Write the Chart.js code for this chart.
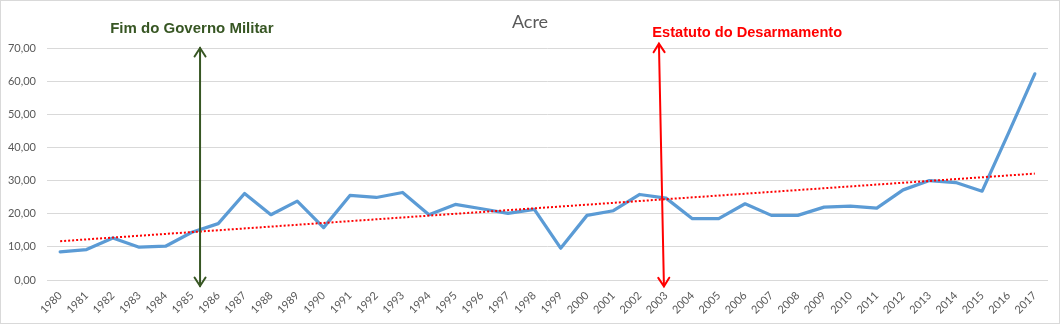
<!DOCTYPE html>
<html>
<head>
<meta charset="utf-8">
<script src="https://cdn.jsdelivr.net/npm/chart.js@4.4.0/dist/chart.umd.min.js"></script>
<style>
  html, body { margin: 0; padding: 0; background: #fff; }
  #wrap { width: 1062px; height: 325px; }
</style>
</head>
<body>
<div id="wrap"><canvas id="myChart" width="1062" height="325"></canvas></div>
<script>
// anos e taxa
const anos = ['1980', '1981', '1982', '1983', '1984', '1985', '1986', '1987', '1988', '1989',
  '1990', '1991', '1992', '1993', '1994', '1995', '1996', '1997', '1998', '1999',
  '2000', '2001', '2002', '2003', '2004', '2005', '2006', '2007', '2008', '2009',
  '2010', '2011', '2012', '2013', '2014', '2015', '2016', '2017'];
const taxaAcre = [8.5, 9.2, 12.7, 9.9, 10.2, 14.4, 17.0, 26.1, 19.7, 23.8,
  15.8, 25.5, 24.9, 26.4, 19.7, 22.8, 21.5, 20.1, 21.3, 9.6,
  19.5, 20.9, 25.8, 24.7, 18.5, 18.5, 23.0, 19.5, 19.5, 22.0,
  22.3, 21.7, 27.2, 30.0, 29.4, 26.8, 44.3, 62.2];
// linha de tendencia (pontas)
const tendenciaAnos = ['1980', '2017'];
const tendenciaValores = [11.7, 32.1];
const tituloGrafico = 'Acre';

// setas e textos (x = indice do ano, y = valor)
const marcos = [
  { texto: 'Fim do Governo Militar', cor: '#375623', x1: 5.31, y1: 70, x2: 5.31, y2: -1.8, tx: 5.0, ty: 75.8, align: 'center', size: 15 },
  { texto: 'Estatuto do Desarmamento', cor: '#ff0000', x1: 22.73, y1: 71.3, x2: 22.92, y2: -1.9, tx: 22.48, ty: 74.6, align: 'left', size: 14.6 }
];

function seta(ctx, ax, ay, bx, by) {
  // ponta aberta em b
  const ang = Math.atan2(by - ay, bx - ax);
  const len = 8.5, half = 5.5;
  const cx = bx - Math.cos(ang) * len, cy = by - Math.sin(ang) * len;
  const px = -Math.sin(ang) * half, py = Math.cos(ang) * half;
  ctx.beginPath();
  ctx.moveTo(cx + px, cy + py);
  ctx.lineTo(bx, by);
  ctx.lineTo(cx - px, cy - py);
  ctx.stroke();
}

const extras = {
  id: 'extras',
  beforeDraw(chart) {
    const ctx = chart.ctx;
    ctx.save();
    ctx.fillStyle = '#fff';
    ctx.fillRect(0, 0, chart.width, chart.height);
    ctx.strokeStyle = '#d9d9d9';
    ctx.lineWidth = 1;
    ctx.strokeRect(0.5, 0.5, 1059, 323);
    ctx.restore();
  },
  afterDatasetsDraw(chart) {
    const ctx = chart.ctx;
    const xs = chart.scales.x, ys = chart.scales.y;
    ctx.save();
    marcos.forEach(m => {
      const ax = xs.getPixelForValue(m.x1), ay = ys.getPixelForValue(m.y1);
      const bx = xs.getPixelForValue(m.x2), by = ys.getPixelForValue(m.y2);
      ctx.strokeStyle = m.cor;
      ctx.lineWidth = 2;
      ctx.lineCap = 'round';
      ctx.beginPath();
      ctx.moveTo(ax, ay);
      ctx.lineTo(bx, by);
      ctx.stroke();
      seta(ctx, bx, by, ax, ay);
      seta(ctx, ax, ay, bx, by);
    });
    ctx.restore();
  },
  afterDraw(chart) {
    const ctx = chart.ctx;
    const xs = chart.scales.x, ys = chart.scales.y;
    ctx.save();
    ctx.textBaseline = 'middle';
    ctx.fillStyle = '#595959';
    ctx.font = '18px Lato';
    ctx.textAlign = 'center';
    ctx.fillText(tituloGrafico, (chart.width - 2) / 2, 22);
    marcos.forEach(m => {
      ctx.fillStyle = m.cor;
      ctx.font = 'bold ' + m.size + 'px "Liberation Sans"';
      ctx.textAlign = m.align;
      ctx.fillText(m.texto, xs.getPixelForValue(m.tx), ys.getPixelForValue(m.ty));
    });
    ctx.restore();
  }
};

const ctx = document.getElementById('myChart');

const chart = new Chart(ctx, {
  type: 'line',
  data: {
    labels: anos,
    datasets: [{
      label: 'Acre',
      data: taxaAcre,
      borderColor: '#5b9bd5',
      borderWidth: 3.25,
      pointRadius: 0,
      tension: 0,
      borderJoinStyle: 'round',
      borderCapStyle: 'round',
      order: 2
    }, {
      label: 'Tendencia',
      data: tendenciaAnos.map((a, i) => ({ x: a, y: tendenciaValores[i] })),
      borderColor: '#ff0000',
      borderWidth: 2,
      borderDash: [2, 2],
      pointRadius: 0,
      tension: 0,
      order: 1
    }]
  },
  options: {
    responsive: false,
    devicePixelRatio: 1,
    animation: false,
    layout: { padding: { top: 48, left: 0, right: 14, bottom: 0 } },
    plugins: {
      legend: { display: false },
      tooltip: { enabled: false },
      title: { display: false }
    },
    scales: {
      x: {
        offset: true,
        grid: { display: false, drawTicks: false },
        border: { display: false },
        ticks: {
          color: '#595959',
          font: { family: 'Lato', size: 11 },
          minRotation: 45,
          maxRotation: 45,
          autoSkip: false,
          padding: 9
        },
        afterFit(scale) { scale.height = 45; }
      },
      y: {
        min: 0,
        max: 70,
        grid: { color: '#d9d9d9', lineWidth: 1, drawTicks: false },
        border: { display: false },
        ticks: {
          stepSize: 10,
          color: '#595959',
          font: { family: 'Lato', size: 11 },
          padding: 11,
          callback: v => v.toFixed(2).replace('.', ',')
        },
        afterFit(scale) { scale.width = 47; }
      }
    }
  },
  plugins: [extras]
});
</script>
</body>
</html>
